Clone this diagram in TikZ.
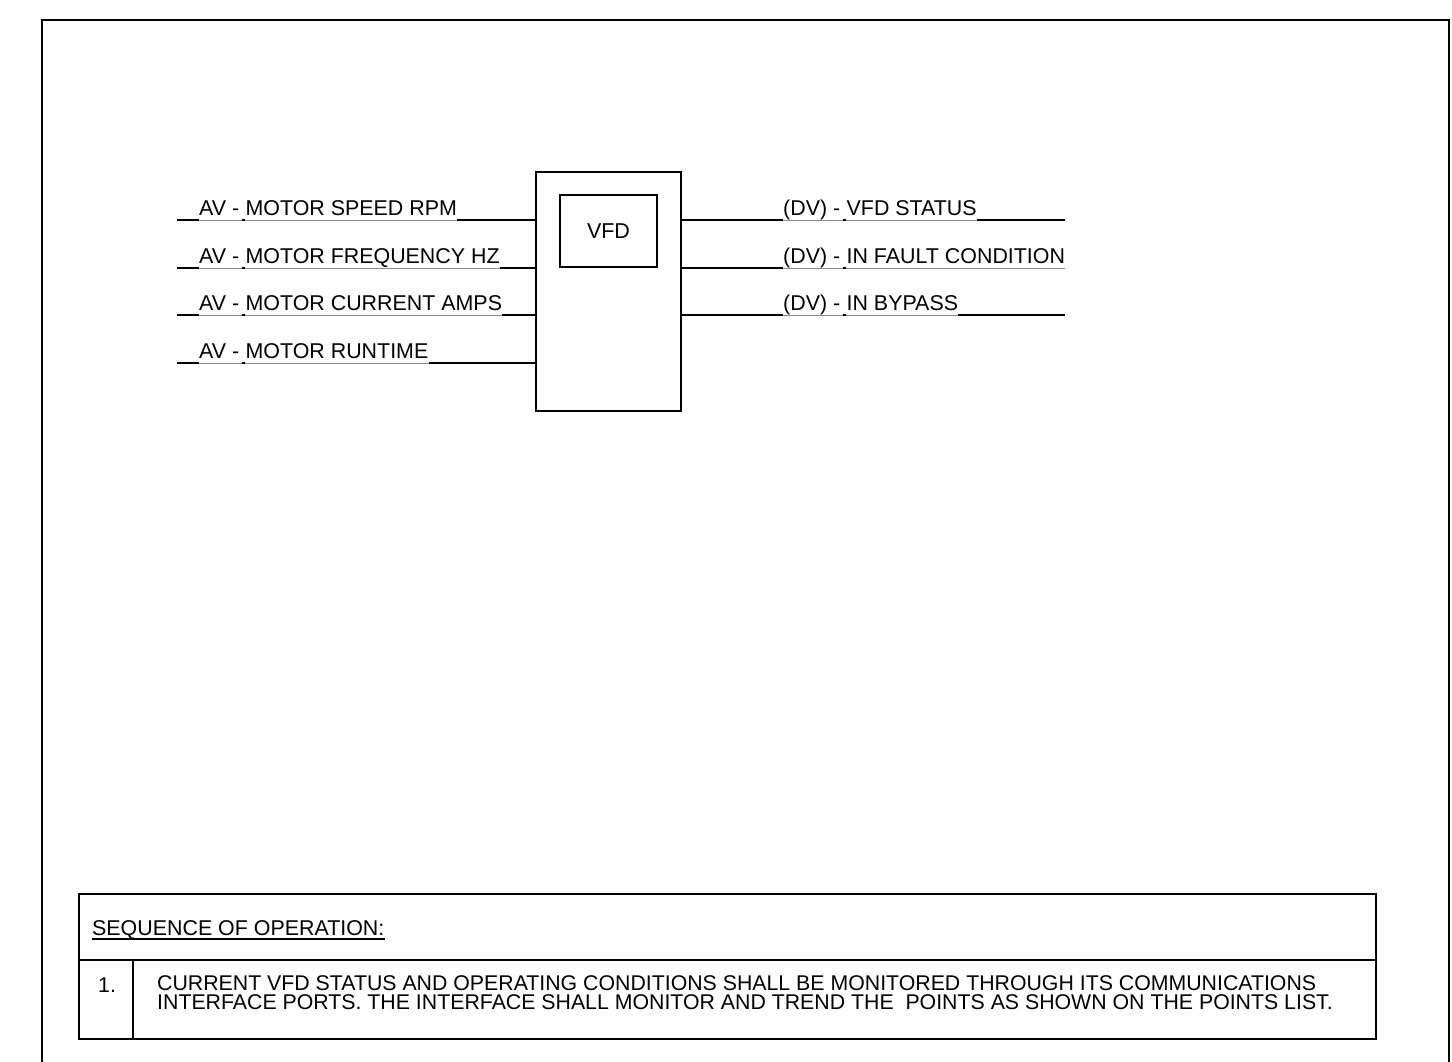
\documentclass[tikz,border=0pt]{standalone}
\usepackage{fontspec}
\setmainfont{Liberation Sans}
\begin{document}
\begin{tikzpicture}[x=1pt,y=-1pt,
  lab/.style={inner sep=0pt, anchor=base west, font=\fontsize{21.4}{24}\selectfont},
  blk/.style={line width=1.6pt, black},
  gry/.style={line width=0.8pt, black!45},
  frame/.style={line width=2pt, black},
  cell/.style={line width=1.6pt, black}]
\useasboundingbox (0,0) rectangle (1452,1061);
% outer frame
\draw[frame] (42,1070) -- (42,20) -- (1449,20) -- (1449,1070);
% VFD box
\node[draw, line width=1.6pt, minimum width=145pt, minimum height=239pt, inner sep=0pt] (vfd) at (608.5,291.5) {};
\node[draw, line width=1.6pt, minimum width=97pt, minimum height=72pt, inner sep=0pt, font=\fontsize{21.5}{24}\selectfont] (inner) at (608.5,231) {VFD};
% inputs
\foreach \i/\y/\t in {1/220/MOTOR SPEED RPM, 2/268/MOTOR FREQUENCY HZ, 3/315/MOTOR CURRENT AMPS, 4/363/MOTOR RUNTIME}{
  \coordinate (in\i) at (177,\y);
  \draw[gry] (in\i) -- (in\i -| vfd.west);
  \node[lab] (av\i) at (199,\y-5) {AV -};
  \node[lab] (t\i) at ([xshift=6pt]av\i.base east) {\t};
  \draw[blk] (in\i) -- (in\i -| av\i.west);
  \draw[blk] (in\i -| av\i.east) ++(3,0) -- (in\i -| t\i.west);
  \draw[blk] (in\i -| t\i.east) -- (in\i -| vfd.west);
}
% outputs
\foreach \i/\y/\t in {1/220/VFD STATUS, 2/268/IN FAULT CONDITION, 3/315/IN BYPASS}{
  \coordinate (out\i) at (1065,\y);
  \draw[gry] (vfd.east |- out\i) -- (out\i);
  \node[lab] (dv\i) at (783,\y-5) {(DV) -};
  \node[lab] (o\i) at ([xshift=6pt]dv\i.base east) {\t};
  \draw[blk] (vfd.east |- out\i) -- (out\i -| dv\i.west);
  \draw[blk] (out\i -| dv\i.east) ++(3,0) -- (out\i -| o\i.west);
  \ifdim\i pt<2pt \draw[blk] (out\i -| o\i.east) -- (out\i);\fi
  \ifdim\i pt>2pt \draw[blk] (out\i -| o\i.east) -- (out\i);\fi
}
% sequence table
\coordinate (tl) at (79,894);
\coordinate (tr) at (1376,894);
\coordinate (ml) at (79,960);
\coordinate (mr) at (1376,960);
\coordinate (bl) at (79,1039);
\coordinate (br) at (1376,1039);
\coordinate (st) at (133,960);
\coordinate (sb) at (133,1039);
\draw[cell] (tl) -- (tr) -- (br) -- (bl) -- cycle;
\draw[cell] (ml) -- (mr);
\draw[cell] (st) -- (sb);
\node[lab] (seq) at (92,935.5) {SEQUENCE OF OPERATION:};
\draw[line width=1.2pt] ([yshift=-3.5pt]seq.base west) -- ([yshift=-3.5pt]seq.base east);
\node[lab, font=\fontsize{21.3}{18.5}\selectfont] (num) at (98,992) {1.};
\node[inner sep=0pt, anchor=base west, align=left, font=\fontsize{21.3}{18.5}\selectfont] (note) at (157,1009)
  {CURRENT VFD STATUS AND OPERATING CONDITIONS SHALL BE MONITORED THROUGH ITS COMMUNICATIONS\\
   INTERFACE PORTS. THE INTERFACE SHALL MONITOR AND TREND THE\ \ POINTS AS SHOWN ON THE POINTS LIST.};
\end{tikzpicture}
\end{document}
